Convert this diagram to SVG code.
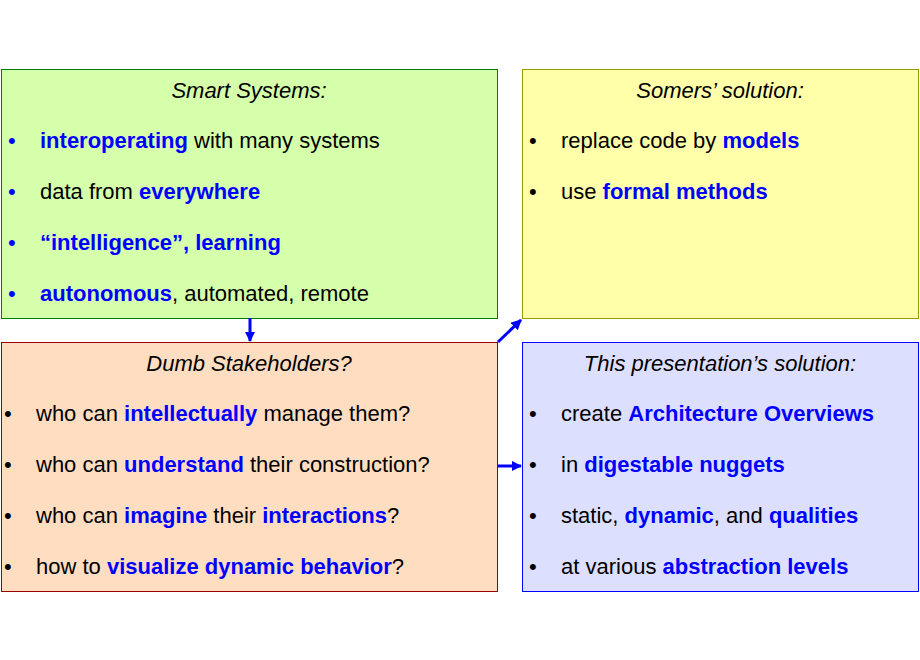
<svg xmlns="http://www.w3.org/2000/svg" width="920" height="660" viewBox="0 0 920 660">
<defs>
<marker id="ah" viewBox="0 0 10 10" refX="9" refY="5" markerWidth="3.5" markerHeight="3.5" orient="auto"><path d="M0,0L10,5L0,10z" fill="#0000FF"/></marker>
<style>
text{font-family:"Liberation Sans",Arial,sans-serif;font-size:22px;fill:#000}
.t{font-style:italic;text-anchor:middle}
.b{font-weight:bold;fill:#0000FF}
.bb{fill:#0000FF}
.c{stroke:#0000FF;stroke-width:3;fill:none;marker-end:url(#ah)}
</style>
</defs>
<rect width="920" height="660" fill="#fff"/>
<g id="smart">
<rect x="1.5" y="69.5" width="496" height="249" fill="#D5FFAA" stroke="#008000"/>
<text class="t" x="249" y="98">Smart Systems:</text>
<text class="bb" x="8" y="148">•</text><text x="40" y="148"><tspan class="b">interoperating</tspan> with many systems</text>
<text class="bb" x="8" y="199">•</text><text x="40" y="199">data from <tspan class="b">everywhere</tspan></text>
<text class="bb" x="8" y="250">•</text><text x="40" y="250" class="b">“intelligence”, learning</text>
<text class="bb" x="8" y="301">•</text><text x="40" y="301"><tspan class="b">autonomous</tspan>, automated, remote</text>
</g>
<g id="somers">
<rect x="522.5" y="69.5" width="396" height="249" fill="#FFFFAA" stroke="#999900"/>
<text class="t" x="720" y="98">Somers’ solution:</text>
<text x="529" y="148">•</text><text x="561" y="148">replace code by <tspan class="b">models</tspan></text>
<text x="529" y="199">•</text><text x="561" y="199">use <tspan class="b">formal methods</tspan></text>
</g>
<g id="dumb">
<rect x="1.5" y="342.5" width="496" height="249" fill="#FFDDC0" stroke="#990000"/>
<text class="t" x="249" y="371">Dumb Stakeholders?</text>
<text x="4" y="421">•</text><text x="36" y="421">who can <tspan class="b">intellectually</tspan> manage them?</text>
<text x="4" y="472">•</text><text x="36" y="472">who can <tspan class="b">understand</tspan> their construction?</text>
<text x="4" y="523">•</text><text x="36" y="523">who can <tspan class="b">imagine</tspan> their <tspan class="b">interactions</tspan>?</text>
<text x="4" y="574">•</text><text x="36" y="574">how to <tspan class="b">visualize dynamic behavior</tspan>?</text>
</g>
<g id="presentation">
<rect x="522.5" y="342.5" width="396" height="249" fill="#DDDFFF" stroke="#0000FF"/>
<text class="t" x="720" y="371">This presentation’s solution:</text>
<text x="529" y="421">•</text><text x="561" y="421">create <tspan class="b">Architecture Overviews</tspan></text>
<text x="529" y="472">•</text><text x="561" y="472">in <tspan class="b">digestable nuggets</tspan></text>
<text x="529" y="523">•</text><text x="561" y="523">static, <tspan class="b">dynamic</tspan>, and <tspan class="b">qualities</tspan></text>
<text x="529" y="574">•</text><text x="561" y="574">at various <tspan class="b">abstraction levels</tspan></text>
</g>
<g id="connectors">
<path class="c" d="M250,318V341"/>
<path class="c" d="M498,342L521,320"/>
<path class="c" d="M498,466H521"/>
</g>
</svg>
